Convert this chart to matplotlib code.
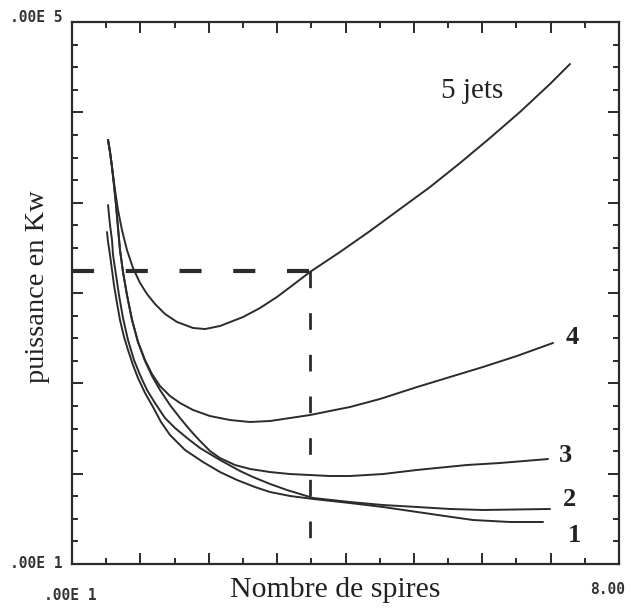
import matplotlib
matplotlib.use("Agg")
import matplotlib.pyplot as plt
from matplotlib.ticker import MultipleLocator, NullFormatter

W, H = 631, 609

# ---- data (x: 0..8, y: 0..6 axis units) ----
x5 = [0.527, 0.556, 0.585, 0.629, 0.673, 0.731, 0.804, 0.892, 0.995, 1.097, 1.214,
      1.360, 1.536, 1.770, 1.945, 2.165, 2.501, 2.750, 2.998, 3.232, 3.481, 3.920,
      4.358, 4.797, 5.236, 5.675, 6.113, 6.552, 6.991, 7.283]
y5 = [4.694, 4.561, 4.395, 4.140, 3.919, 3.697, 3.476, 3.277, 3.111, 2.989, 2.878,
      2.768, 2.679, 2.613, 2.601, 2.635, 2.734, 2.834, 2.956, 3.089, 3.233, 3.454,
      3.686, 3.930, 4.173, 4.439, 4.716, 5.004, 5.314, 5.535]

x4 = [0.527, 0.556, 0.585, 0.614, 0.644, 0.673, 0.702, 0.746, 0.804, 0.878, 0.965,
      1.068, 1.170, 1.287, 1.433, 1.580, 1.770, 2.018, 2.311, 2.603, 2.896, 3.188,
      3.481, 3.773, 4.066, 4.505, 5.046, 5.528, 6.011, 6.508, 7.035]
y4 = [4.694, 4.561, 4.395, 4.196, 3.974, 3.720, 3.476, 3.233, 2.978, 2.701, 2.458,
      2.258, 2.103, 1.970, 1.860, 1.782, 1.705, 1.638, 1.594, 1.572, 1.583, 1.616,
      1.649, 1.694, 1.738, 1.827, 1.959, 2.070, 2.181, 2.303, 2.447]

x3 = [0.527, 0.556, 0.585, 0.614, 0.644, 0.673, 0.702, 0.746, 0.804, 0.878, 0.965,
      1.068, 1.170, 1.287, 1.433, 1.580, 1.726, 1.872, 2.018, 2.165, 2.384, 2.603,
      2.896, 3.188, 3.481, 3.773, 4.066, 4.548, 5.046, 5.777, 6.260, 6.962]
y3 = [4.694, 4.561, 4.395, 4.196, 3.974, 3.720, 3.476, 3.233, 2.978, 2.701, 2.458,
      2.247, 2.081, 1.926, 1.760, 1.616, 1.483, 1.362, 1.251, 1.173, 1.096, 1.052,
      1.018, 0.996, 0.985, 0.974, 0.974, 0.996, 1.041, 1.096, 1.118, 1.162]

x2 = [0.527, 0.541, 0.556, 0.585, 0.600, 0.644, 0.687, 0.746, 0.819, 0.907, 0.995,
      1.097, 1.214, 1.360, 1.506, 1.682, 1.872, 2.165, 2.457, 2.647, 2.896, 3.144,
      3.525, 4.066, 4.548, 5.046, 5.528, 6.011, 6.991]
y2 = [3.974, 3.864, 3.753, 3.587, 3.421, 3.199, 2.978, 2.723, 2.480, 2.258, 2.092,
      1.926, 1.782, 1.616, 1.506, 1.395, 1.284, 1.151, 1.030, 0.963, 0.886, 0.819,
      0.731, 0.686, 0.653, 0.631, 0.609, 0.598, 0.609]

x1 = [0.512, 0.527, 0.556, 0.585, 0.614, 0.658, 0.702, 0.761, 0.819, 0.892, 0.965,
      1.068, 1.185, 1.302, 1.433, 1.653, 1.916, 2.165, 2.413, 2.676, 2.896, 3.188,
      3.525, 4.066, 4.548, 5.046, 5.455, 5.865, 6.406, 6.889]
y1 = [3.675, 3.565, 3.421, 3.255, 3.089, 2.889, 2.701, 2.513, 2.369, 2.203, 2.059,
      1.893, 1.738, 1.572, 1.428, 1.262, 1.129, 1.018, 0.930, 0.852, 0.797, 0.753,
      0.720, 0.675, 0.631, 0.576, 0.531, 0.487, 0.465, 0.465]

series = [(x1, y1), (x2, y2), (x3, y3), (x4, y4), (x5, y5)]
curve_labels = ["1", "2", "3", "4", "5 jets"]

# dashed reading guide
x_read = 3.48
y_read = 3.24

x_min, x_max = 0, 8
y_min, y_max = 0, 6
ytick_labels = [".00E 1", ".00E 5"]
xtick_labels = [".00E 1", "8.00"]
xlabel = "Nombre de spires"
ylabel = "puissance en Kw"

# ---- figure ----
fig = plt.figure(figsize=(W / 100, H / 100), dpi=100)
fig.patch.set_facecolor("white")
ax = fig.add_axes([72 / W, 1 - 564 / H, (619 - 72) / W, (564 - 22) / H])
ax.set_xlim(x_min, x_max)
ax.set_ylim(y_min, y_max)

ink = "#2b2b2b"
for xs, ys in series:
    ax.plot(xs, ys, color=ink, lw=1.4, solid_capstyle="round", solid_joinstyle="round")

ax.plot([x_min, x_read], [y_read, y_read], color=ink, lw=3.0, dashes=(5.3, 7.6))
ax.plot([x_read, x_read], [y_read, 0.15], color=ink, lw=2.0, dashes=(6, 9))

for s in ax.spines.values():
    s.set_linewidth(1.6)
    s.set_color(ink)

ax.xaxis.set_major_locator(MultipleLocator(1))
ax.xaxis.set_minor_locator(MultipleLocator(0.5))
ax.yaxis.set_major_locator(MultipleLocator(1))
ax.yaxis.set_minor_locator(MultipleLocator(0.25))
ax.xaxis.set_major_formatter(NullFormatter())
ax.yaxis.set_major_formatter(NullFormatter())
ax.tick_params(which="both", direction="in", top=True, right=True, color=ink,
               labelbottom=False, labelleft=False)
ax.tick_params(which="major", length=8, width=1.4)
ax.tick_params(which="minor", length=4, width=1.4)

def ftext(px, py, s, **kw):
    fig.text(px / W, 1 - py / H, s, **kw)

mono = dict(family="DejaVu Sans Mono", fontsize=10.5, fontweight="bold", color="#333333")
ftext(63, 18, ytick_labels[1], ha="right", va="center", **mono)
ftext(63, 563, ytick_labels[0], ha="right", va="center", **mono)
ftext(70, 595, xtick_labels[0], ha="center", va="center", **mono)
ftext(608, 590, xtick_labels[1], ha="center", va="center", **mono)

serif = ["Liberation Serif", "DejaVu Serif"]
ftext(335, 590, xlabel, ha="center", va="center", family=serif, fontsize=21.5, color="#222222")
ftext(38, 287, ylabel, ha="center", va="center", rotation=90, family=serif,
      fontsize=20.5, color="#222222")

ftext(472, 91, curve_labels[4], ha="center", va="center", family=serif, fontsize=21, color="#222222")
lab_pos = {"4": (572, 338), "3": (565, 455), "2": (569, 499), "1": (574, 535)}
for lab in curve_labels[:4]:
    px, py = lab_pos[lab]
    ftext(px, py, lab, ha="center", va="center", family=serif, fontsize=19,
          fontweight="bold", color="#222222")

fig.savefig("out.png", dpi=100, facecolor="white")
